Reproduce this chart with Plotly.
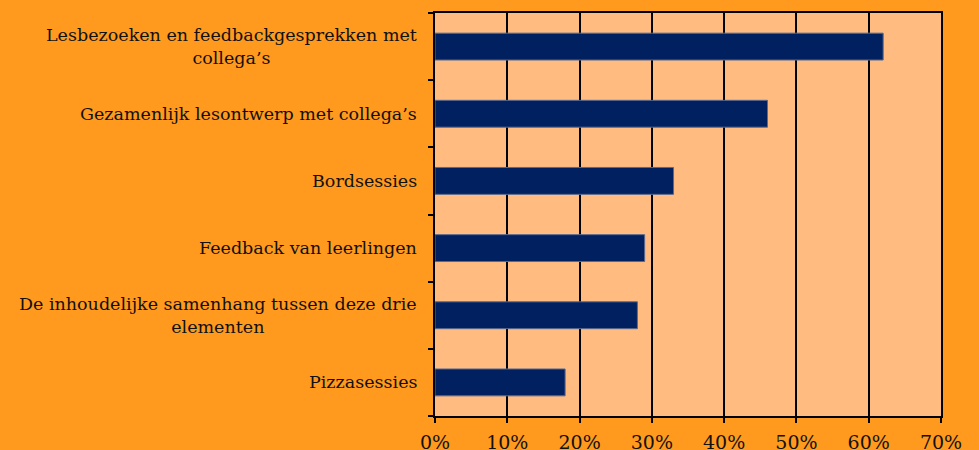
import plotly.graph_objects as go

categories = [
    "Lesbezoeken en feedbackgesprekken met<br>collega’s",
    "Gezamenlijk lesontwerp met collega’s",
    "Bordsessies",
    "Feedback van leerlingen",
    "De inhoudelijke samenhang tussen deze drie<br>elementen",
    "Pizzasessies",
]
values = [0.62, 0.46, 0.33, 0.29, 0.28, 0.18]
tick_vals = [0, 0.1, 0.2, 0.3, 0.4, 0.5, 0.6, 0.7]
tick_text = ["0%", "10%", "20%", "30%", "40%", "50%", "60%", "70%"]

font_family = "DejaVu Serif"

fig = go.Figure(go.Bar(
    x=values,
    y=categories,
    orientation="h",
    marker=dict(color="#002060", line=dict(color="#5a6a90", width=1)),
    width=0.4,
))

annotations = [
    dict(x=0, y=c, xref="paper", yref="y", xanchor="right", yanchor="middle",
         xshift=-16, text=c, showarrow=False, align="center",
         font=dict(family=font_family, size=17.5, color="#111111"))
    for c in categories
]

fig.update_layout(
    width=979, height=450,
    margin=dict(l=435, r=38, t=13, b=34),
    paper_bgcolor="#FF9A1E",
    plot_bgcolor="#FFBB80",
    showlegend=False,
    annotations=annotations,
    bargap=0.6,
)
fig.update_xaxes(
    range=[0, 0.7], tickvals=tick_vals, ticktext=tick_text,
    showgrid=True, gridcolor="#000000", gridwidth=1.5,
    showline=True, linecolor="#000000", linewidth=2, mirror=True,
    ticks="outside", ticklen=5, tickcolor="#000000", tickwidth=1.5,
    ticklabelstandoff=3, automargin=False,
    tickfont=dict(family=font_family, size=19, color="#111111"),
    zeroline=False,
)
fig.update_yaxes(
    categoryorder="array", categoryarray=categories[::-1],
    showticklabels=False, automargin=False,
    showline=True, linecolor="#000000", linewidth=2, mirror=True,
    ticks="outside", ticklen=5, tickcolor="#000000", tickwidth=1.5,
    tickson="boundaries", showgrid=False,
)
fig.write_html(
    "out.html",
    config={"displayModeBar": False},
    post_script="document.body.style.margin='0';document.body.style.padding='0';document.body.style.overflow='hidden';",
)
